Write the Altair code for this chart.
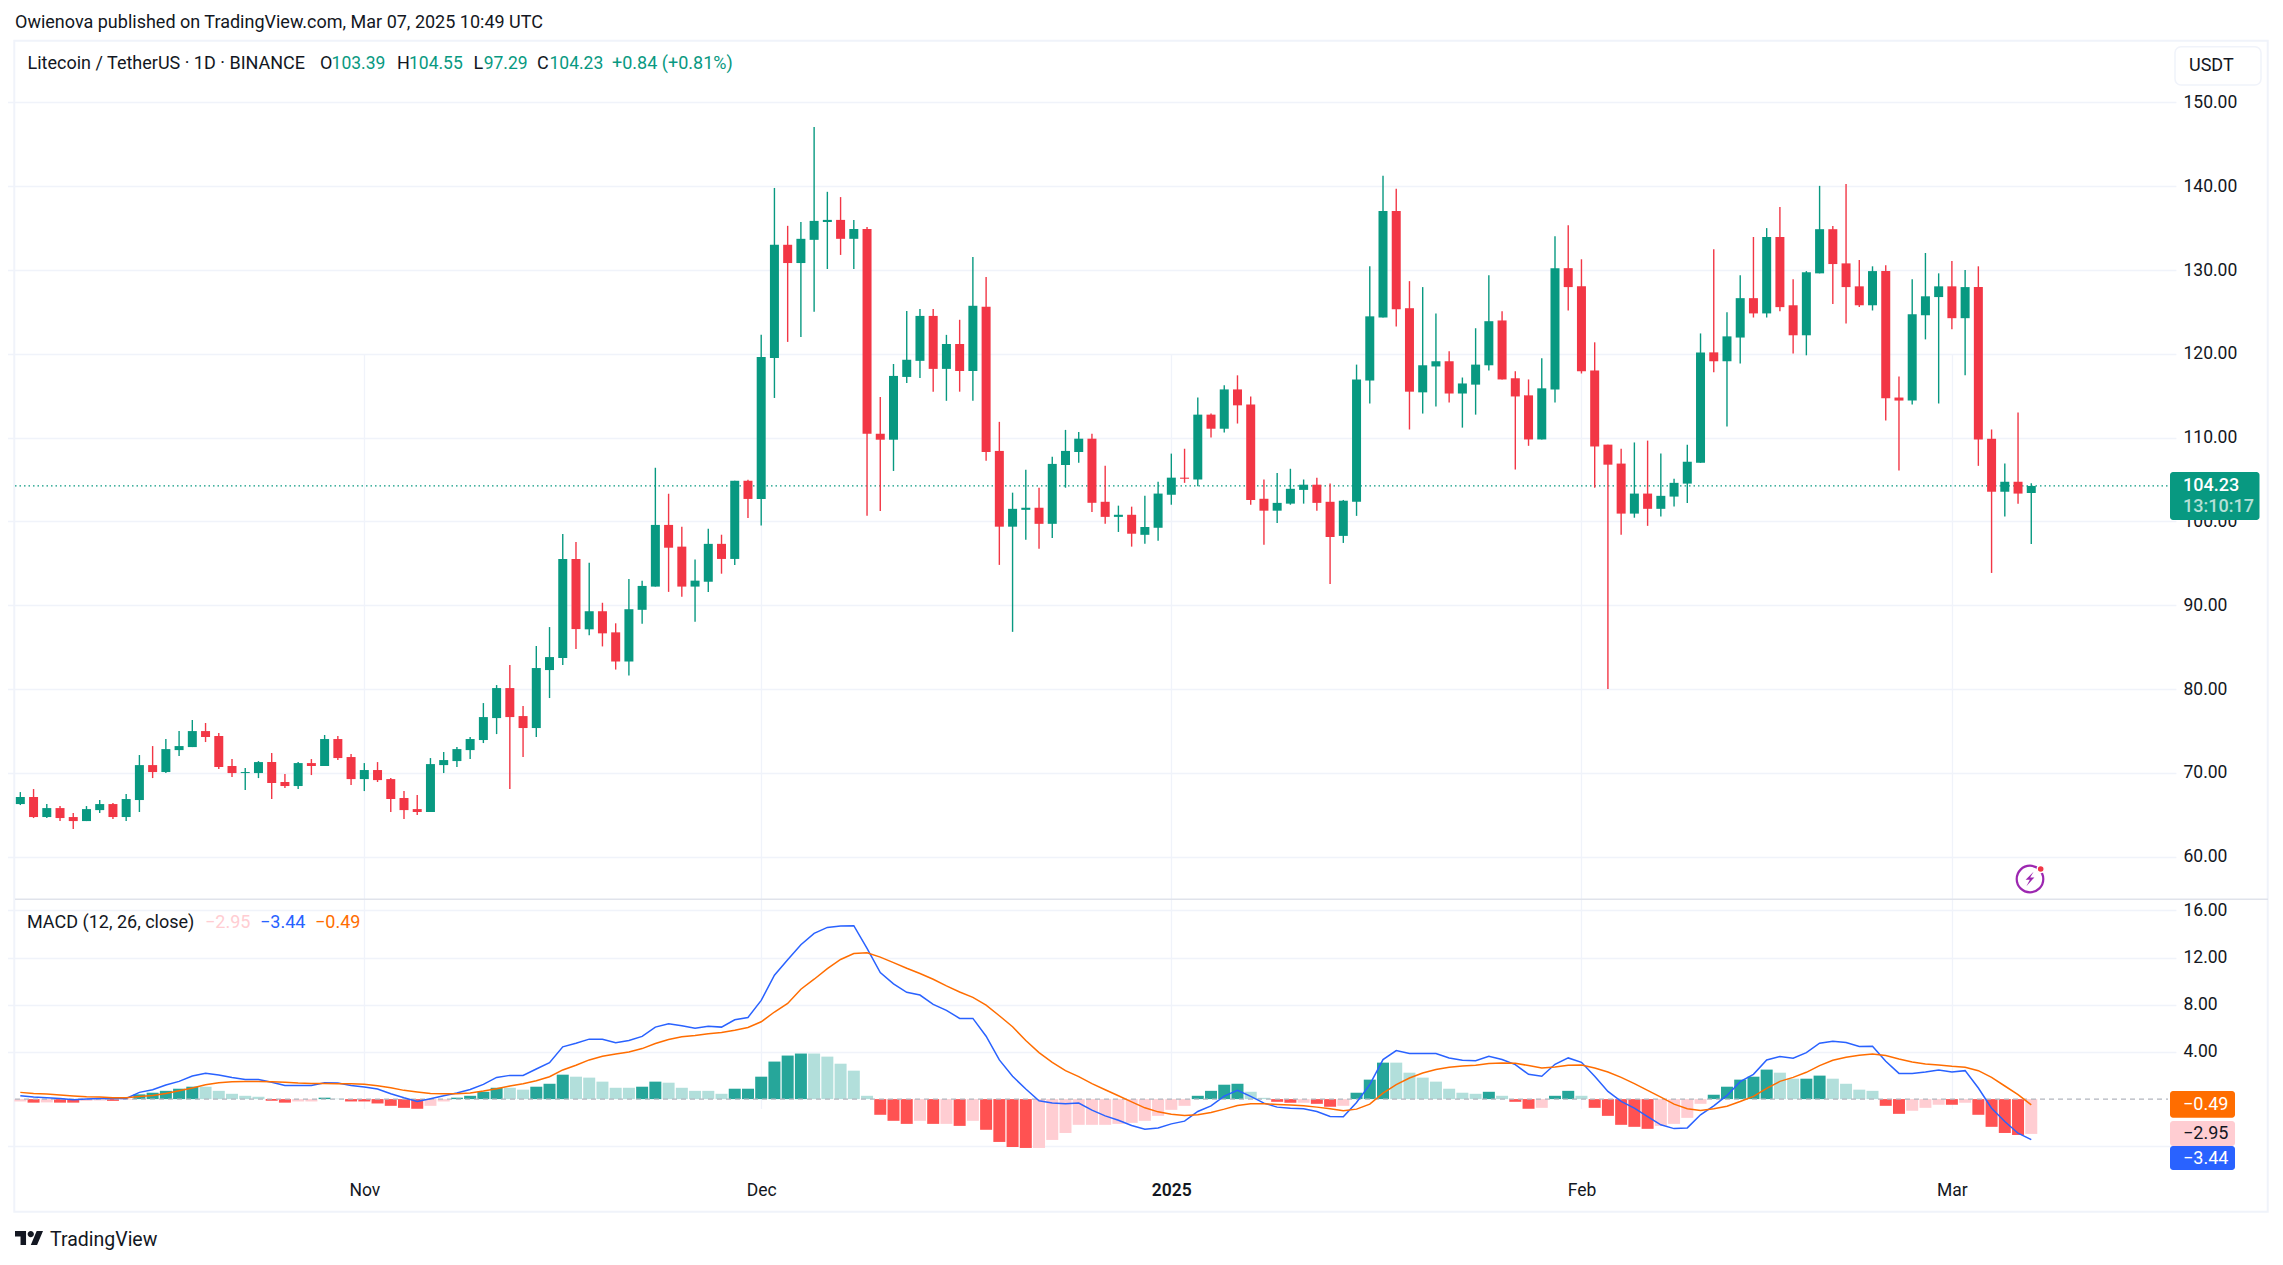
import altair as alt
import pandas as pd

opens = [66.27,67.11,64.72,65.79,64.72,64.24,65.55,66.27,64.72,66.75,
70.92,70.09,72.71,73.07,74.98,74.39,70.81,69.97,69.97,71.28,
68.90,68.42,71.16,70.81,74.03,71.88,69.25,70.33,69.25,66.99,
65.67,65.32,70.92,71.40,72.71,73.91,76.53,80.11,76.77,75.34,
82.26,83.69,95.51,87.12,89.28,86.76,83.28,89.45,92.22,99.58,
96.99,92.22,92.80,97.32,95.52,104.85,102.68,119.50,133.01,130.83,
133.60,135.73,135.98,133.72,134.89,110.46,109.75,117.24,119.16,124.52,
118.20,121.17,117.95,125.60,108.41,99.37,101.38,101.63,99.71,106.73,
108.28,109.87,102.34,100.54,100.79,98.40,99.24,103.18,105.22,105.00,
112.74,111.06,115.75,113.94,102.70,101.28,102.12,103.76,104.38,102.34,
98.27,102.34,116.81,124.33,137.03,125.44,115.40,118.49,119.11,115.26,
116.32,118.63,123.98,117.08,115.04,109.78,115.75,130.22,128.05,118.01,
109.16,106.90,100.93,103.32,101.50,102.96,104.51,106.99,120.17,119.11,
121.94,126.64,124.82,133.94,125.79,122.21,129.60,134.87,130.79,128.05,
125.79,129.87,114.78,114.42,124.60,126.77,128.05,124.25,127.96,109.86,
103.54,104.73,103.39]
highs = [67.70,68.06,66.27,66.03,65.20,66.03,66.75,66.39,67.46,72.12,
73.19,74.03,74.98,76.30,75.94,74.74,71.64,70.57,71.40,72.36,
69.85,71.28,71.64,74.51,74.39,72.24,71.16,71.28,69.37,67.82,
67.34,71.76,72.48,73.07,74.27,78.32,80.47,82.86,77.97,85.13,
87.39,98.49,97.54,95.06,90.29,87.84,93.14,92.93,106.40,103.30,
99.37,95.44,99.12,98.41,104.85,104.98,122.26,139.79,135.27,135.73,
147.07,139.33,138.70,135.98,135.14,114.85,118.78,125.10,125.35,125.35,
122.26,124.06,131.55,129.16,111.88,103.43,106.15,104.02,107.70,110.92,
110.67,110.46,106.65,101.88,101.76,103.05,104.73,108.09,108.67,114.78,
112.87,116.24,117.43,114.91,105.00,105.79,106.28,105.00,105.22,104.51,
102.56,118.71,130.44,141.24,139.69,128.67,127.96,124.82,120.31,117.17,
123.05,129.38,125.09,117.92,116.94,119.47,134.02,135.35,131.28,121.37,
109.16,108.67,109.42,109.64,108.09,105.09,109.16,122.43,132.48,124.95,
129.38,133.94,135.00,137.52,128.89,129.87,140.04,135.26,140.26,131.19,
130.44,130.57,117.30,128.89,132.03,129.60,131.06,130.00,130.44,110.97,
106.90,113.01,104.55]
lows = [66.15,64.60,64.60,64.24,63.29,64.24,65.20,64.48,64.24,65.32,
69.37,69.97,72.00,73.07,73.67,70.45,69.49,67.94,69.37,66.87,
68.18,68.06,69.73,70.81,71.52,68.54,67.82,68.90,65.32,64.48,
64.96,65.32,69.97,70.69,71.64,73.55,74.62,68.06,71.88,74.27,
78.92,82.86,84.77,86.40,85.08,82.32,81.60,87.78,92.22,91.59,
91.00,88.03,91.59,93.76,94.81,100.42,99.50,114.73,121.42,122.01,
125.02,130.12,131.80,130.12,100.67,101.25,106.02,116.53,117.11,115.48,
114.39,115.48,114.39,107.24,94.81,86.82,97.82,96.73,98.03,104.02,
106.99,101.13,99.71,98.74,96.99,97.34,97.70,101.99,104.60,104.20,
110.00,110.62,111.68,101.99,97.21,99.82,101.99,102.12,101.28,92.52,
97.43,100.66,114.07,124.33,123.27,110.97,112.87,113.71,114.20,111.19,
112.74,118.01,116.94,106.19,109.02,109.78,114.20,125.17,117.65,104.02,
80.00,98.40,100.44,99.47,100.57,101.77,102.21,106.99,117.79,111.32,
118.85,124.33,124.33,125.09,120.04,119.82,129.60,125.93,123.63,125.57,
125.17,112.03,106.06,113.94,121.72,114.07,122.92,117.43,106.63,93.85,
100.57,102.12,97.29]
closes = [67.11,64.72,65.79,64.60,64.24,65.67,66.27,64.72,66.87,70.92,
70.09,72.83,73.19,74.98,74.27,70.69,69.97,70.09,71.28,68.78,
68.42,71.16,70.81,74.03,71.76,69.25,70.33,69.13,66.87,65.55,
65.32,71.04,71.52,72.83,74.03,76.65,80.11,76.65,75.34,82.50,
83.81,95.51,87.15,89.28,86.64,83.28,89.52,92.30,99.58,96.86,
92.22,92.93,97.32,95.52,104.85,102.68,119.62,133.01,130.83,133.72,
135.86,135.98,133.72,134.89,110.46,109.75,117.36,119.29,124.52,118.20,
121.17,117.95,125.73,108.28,99.37,101.50,101.63,99.71,106.86,108.41,
109.87,102.22,100.54,100.79,98.53,99.33,103.32,105.22,105.09,112.74,
111.06,115.75,113.85,102.56,101.28,102.21,103.89,104.38,102.21,98.14,
102.47,116.94,124.47,137.03,125.31,115.48,118.63,119.11,115.26,116.46,
118.71,123.89,116.94,114.91,109.78,115.88,130.22,127.96,117.92,108.94,
106.77,100.93,103.32,101.50,103.05,104.60,107.12,120.17,119.11,122.08,
126.64,124.82,133.94,125.57,122.21,129.73,134.87,130.71,127.96,125.79,
129.87,114.69,114.42,124.73,126.86,128.05,124.25,127.96,109.78,103.54,
104.73,103.32,104.23]
hist = [-.2,-.3,-.28,-.3,-.3,-.15,-.12,-.15,-.05,.4,.54,.7,.88,1.05,1.05,.7,.45,.28,.2,-.15,
-.3,-.2,-.2,.12,.03,-.2,-.2,-.37,-.57,-.74,-.82,-.57,-.2,.12,.28,.62,.96,.96,.8,1.05,
1.3,2.07,1.9,1.82,1.48,.96,.96,1.05,1.48,1.39,.96,.7,.7,.45,.88,.88,1.9,3.18,3.69,3.86,
3.86,3.6,3.0,2.41,.28,-1.33,-1.84,-2.1,-1.84,-2.1,-2.1,-2.27,-1.84,-2.6,-3.63,-4.06,-4.14,-4.14,-3.46,-2.87,
-2.18,-2.18,-2.18,-2.1,-2.01,-1.84,-1.42,-.91,-.57,.28,.7,1.22,1.3,.62,.11,-.23,-.31,-.31,-.4,-.65,
-.57,.54,1.65,3.09,3.09,2.24,1.82,1.48,.88,.54,.45,.62,.28,-.23,-.82,-.74,.28,.7,.28,-.74,
-1.42,-2.18,-2.35,-2.52,-2.27,-2.1,-1.59,-.4,.37,1.05,1.65,1.9,2.5,2.24,1.73,1.73,1.99,1.73,1.3,.8,
.7,-.57,-1.25,-.99,-.74,-.48,-.48,-.31,-1.33,-2.35,-2.87,-3.04,-2.95]
hist_kind = list(
    "prprrpprp" "ggggg" "lllll" "rr" "pp" "g" "l" "rrrrrr" "pp" "gggg" "ll" "ggg" "lllll" "gg" "lllll" "gggggg"
    "lllll" "rrr" "p" "r" "p" "r" "p" "rrrr" "pppppppppppp" "gggg" "ll" "rr" "p" "rr" "p" "ggg" "lllllll" "g" "l"
    "rr" "p" "gg" "l" "r"
    "rrrr" "pppp" "ggggg" "ll" "gg" "llll" "rr" "ppp" "r" "p" "rrrr" "p")
macd = [.28,.17,.11,.06,-.06,0,.06,.06,.06,.57,.79,1.19,1.5,1.96,2.18,2.04,1.84,1.67,1.67,1.42,
1.16,1.16,1.16,1.39,1.36,1.16,1.02,.85,.45,.11,-.2,.03,.28,.51,.82,1.25,1.84,2.01,2.01,2.55,
3.09,4.43,4.74,5.08,5.08,4.77,4.96,5.31,6.1,6.38,6.21,6.01,6.18,6.1,6.72,6.92,8.37,10.5,11.8,13.08,
14.04,14.55,14.67,14.7,12.77,10.72,9.76,9.05,8.82,8.03,7.52,6.84,6.84,5.33,3.32,1.93,.85,-.14,-.34,-.4,
-.34,-.94,-1.42,-1.79,-2.24,-2.55,-2.44,-2.1,-1.87,-1.05,-.57,.26,.74,.23,-.34,-.68,-.77,-.82,-1.05,-1.48,
-1.5,-.28,1.22,3.35,4.11,3.86,3.86,3.86,3.49,3.29,3.26,3.63,3.35,2.92,2.1,1.93,2.95,3.49,3.12,1.93,
.65,-.2,-.77,-1.48,-2.18,-2.5,-2.44,-1.33,-.57,.31,1.48,2.1,3.32,3.6,3.46,3.94,4.74,4.91,4.79,4.45,
4.48,3.21,2.18,2.18,2.3,2.47,2.3,2.41,.94,-.77,-1.9,-2.89,-3.44]
signal = [.57,.48,.43,.34,.26,.2,.17,.11,.11,.23,.31,.48,.71,.94,1.22,1.39,1.48,1.5,1.5,1.48,
1.42,1.36,1.33,1.33,1.31,1.31,1.25,1.13,.96,.74,.6,.48,.45,.45,.51,.68,.88,1.11,1.31,1.56,
1.9,2.47,2.87,3.32,3.63,3.83,4.0,4.28,4.71,5.05,5.28,5.39,5.53,5.65,5.84,6.07,6.55,7.38,8.11,9.31,
10.16,11.06,11.83,12.34,12.4,12.03,11.57,11.09,10.64,10.16,9.59,9.08,8.62,7.97,7.06,6.13,4.96,3.94,3.12,2.41,
1.9,1.31,.79,.28,-.23,-.74,-1.08,-1.28,-1.39,-1.33,-1.13,-.85,-.54,-.4,-.4,-.45,-.51,-.57,-.68,-.82,
-.99,-.85,-.43,.51,1.22,1.79,2.21,2.5,2.7,2.81,2.87,3.01,3.06,3.04,2.84,2.64,2.72,2.87,2.89,2.64,
2.3,1.84,1.31,.74,.17,-.43,-.82,-.96,-.82,-.6,-.2,.23,.91,1.5,1.84,2.27,2.84,3.29,3.55,3.72,
3.83,3.69,3.4,3.15,2.98,2.89,2.78,2.7,2.41,1.84,1.11,.37,-.49]

price_ticks = [60, 70, 80, 90, 100, 110, 120, 130, 140, 150]
macd_ticks = [16, 12, 8, 4, -4]
month_ticks = ["2024-11-01", "2024-12-01", "2025-01-01", "2025-02-01", "2025-03-01"]
last_price = 104.23

dates = pd.date_range("2024-10-06", "2025-03-07").strftime("%Y-%m-%d").tolist()
df = pd.DataFrame({"date": dates, "open": opens, "high": highs, "low": lows, "close": closes,
                   "hist": hist, "kind": hist_kind, "macd": macd, "signal": signal})
df["zero"] = 0
one = pd.DataFrame({"_": [0]})

FONT = "Roboto"
GRID = "#f0f3fa"
INK = "#131722"
UP = "#089981"
DOWN = "#F23645"
VIEW_L, VIEW_T, VIEW_W, VIEW_H = 15, 41, 2153, 1129

xaxis = alt.Axis(title=None, values=month_ticks, grid=True, gridColor=GRID, gridWidth=1.3,
                 domain=False, ticks=False, labelPadding=11, labelFont=FONT, labelFontSize=17.5,
                 labelColor=INK, labelFlush=False, labelOverlap=False,
                 labelExpr="utcmonth(datum.value)==0 ? '2025' : utcFormat(datum.value,'%b')",
                 labelFontWeight={"condition": {"test": "utcmonth(datum.value)==0", "value": 600}, "value": 400})
X = alt.X("date:T", axis=xaxis,
          scale=alt.Scale(type="utc", domain=["2024-10-05", "2025-03-18"], range=[-7.9, 2161.8], padding=0))

pscale = alt.Scale(domain=[60, 150], range=[815.6, 61.4], nice=False, zero=False)
mscale = alt.Scale(domain=[-4, 16], range=[1105.3, 869.3], nice=False, zero=False)


def yaxis(vals):
    return alt.Axis(title=None, orient="right", values=vals, grid=True, gridColor=GRID,
                    gridWidth=1.3, domain=False, ticks=False, labelPadding=15, labelFont=FONT,
                    labelFontSize=17.5, labelColor=INK, labelOverlap=False,
                    labelExpr="datum.value < 0 ? '' : format(datum.value, '.2f')")


updown = alt.condition("datum.close >= datum.open", alt.value(UP), alt.value(DOWN))
base = alt.Chart(df)
layers = []


def rect(x0, x1, y0, y1, **kw):
    return alt.Chart(one).mark_rect(**kw).encode(
        x=alt.value(x0 - VIEW_L), x2=alt.value(x1 - VIEW_L),
        y=alt.value(y0 - VIEW_T), y2=alt.value(y1 - VIEW_T))


def txt(s, x, y, color=INK, size=18, weight=400, align="left", font=FONT):
    return alt.Chart(one).mark_text(text=s, color=color, fontSize=size, fontWeight=weight, align=align,
                                    baseline="middle", font=font).encode(
        x=alt.value(x - VIEW_L), y=alt.value(y - VIEW_T))


# frame and pane separator (no fill, so the axes and grid below stay visible)
layers.append(rect(14.3, 2267.7, 40.7, 1211.7, fill="transparent", stroke=GRID, strokeWidth=2))
layers.append(rect(15, 2268, 898.6, 900, fill="#e0e3eb"))

# candles
layers.append(base.mark_rule(opacity=0).encode(x=X, y=alt.Y("high:Q", scale=pscale, axis=yaxis(price_ticks))))
layers.append(alt.Chart(one).mark_rule(color=UP, strokeWidth=1.2, strokeDash=[1.5, 3]).encode(
    x=alt.value(0), x2=alt.value(VIEW_W), y=alt.Y(datum=last_price, scale=pscale, axis=None)))
layers.append(base.mark_rule(strokeWidth=1.4).encode(
    x=X, y=alt.Y("high:Q", scale=pscale, axis=None), y2="low:Q", color=updown))
layers.append(base.mark_bar(size=9).encode(
    x=X, y=alt.Y("open:Q", scale=pscale, axis=None), y2="close:Q", color=updown))

# MACD
layers.append(base.mark_bar(size=12).encode(
    x=X, y=alt.Y("hist:Q", scale=mscale, axis=yaxis(macd_ticks)), y2="zero:Q",
    color=alt.Color("kind:N", legend=None,
                    scale=alt.Scale(domain=["g", "l", "p", "r"],
                                    range=["#26a69a", "#b2dfdb", "#ffcdd2", "#ff5252"]))))
layers.append(alt.Chart(one).mark_rule(color="#b2b5be", strokeWidth=1.3, strokeDash=[5, 4]).encode(
    x=alt.value(0), x2=alt.value(VIEW_W), y=alt.Y(datum=0, scale=mscale, axis=None)))
layers.append(base.mark_line(color="#2962FF", strokeWidth=1.5).encode(
    x=X, y=alt.Y("macd:Q", scale=mscale, axis=None)))
layers.append(base.mark_line(color="#FF6D00", strokeWidth=1.5).encode(
    x=X, y=alt.Y("signal:Q", scale=mscale, axis=None)))

# price tags
layers.append(rect(2170, 2259.5, 472, 520, fill=UP, cornerRadius=3))
layers.append(txt("104.23", 2183, 486, "white", 18, 500))
layers.append(txt("13:10:17", 2183, 507, "#b5e0d7", 18, 500))
layers.append(rect(2170, 2235, 1091, 1117.7, fill="#FF6D00", cornerRadius=3))
layers.append(txt("−0.49", 2183, 1105, "white"))
layers.append(rect(2170, 2235, 1121, 1146, fill="#FFCDD2", cornerRadius=3))
layers.append(txt("−2.95", 2183, 1134, "#131722"))
layers.append(rect(2170, 2235, 1146, 1170, fill="#2962FF", cornerRadius=3))
layers.append(txt("−3.44", 2183, 1159, "white"))

# USDT button
layers.append(rect(2175, 2261, 46.7, 85, fill="white", stroke=GRID, strokeWidth=1.5, cornerRadius=6))
layers.append(txt("USDT", 2189, 65.7))

# header and legend
layers.append(txt("Owienova published on TradingView.com, Mar 07, 2025 10:49 UTC", 15, 23))
layers.append(txt("Litecoin / TetherUS · 1D · BINANCE", 27.5, 64))
for label, lx, value, vx in [("O", 320, "103.39", 331.6), ("H", 397, "104.55", 409),
                             ("L", 473.5, "97.29", 483.7), ("C", 537, "104.23", 549.5)]:
    layers.append(txt(label, lx, 64))
    layers.append(txt(value, vx, 64, UP, 17.5))
layers.append(txt("+0.84 (+0.81%)", 612, 64, UP))
layers.append(txt("MACD (12, 26, close)", 27, 923))
layers.append(txt("−2.95", 205, 923, "#FFCDD2"))
layers.append(txt("−3.44", 260, 923, "#2962FF"))
layers.append(txt("−0.49", 315, 923, "#FF6D00"))


def sym(shape, x, y, size, **kw):
    return alt.Chart(one).mark_point(shape=shape, size=size, **kw).encode(
        x=alt.value(x - VIEW_L), y=alt.value(y - VIEW_T))


LOGO = ("M-.211,.507H-.605V-.113H-1V-.507H-.211Z M.577,.507H.127L.549,-.507H1Z "
        "M-.098,-.282A.225,.225 0 1 0 .352,-.282A.225,.225 0 1 0 -.098,-.282Z")
BOLT = "M.45,-.9L-.55,.1H-.02L-.45,.9L.55,-.2H.02Z"
layers.append(sym(LOGO, 29, 1238, 784, filled=True, fill="#131722", strokeWidth=0, opacity=1))
layers.append(txt("TradingView", 50, 1240, INK, 19.5))
layers.append(sym("circle", 2030, 879, 707, filled=False, stroke="#9C27B0", strokeWidth=2.2, opacity=1))
layers.append(sym(BOLT, 2030, 879, 256, filled=True, fill="#9C27B0", strokeWidth=0, opacity=1))
layers.append(sym("circle", 2040.7, 869, 50, filled=True, fill="#F23645", stroke="white", strokeWidth=1.5, opacity=1))

chart = alt.layer(*layers).resolve_scale(y="independent", color="independent").resolve_axis(y="independent").properties(
    width=VIEW_W, height=VIEW_H,
    autosize=alt.AutoSizeParams(type="none"),
    padding={"left": VIEW_L - 8, "top": VIEW_T - 8, "right": 105, "bottom": 84},
    background="white",
).configure_view(stroke=None)

chart.save("out.html", embed_options={"renderer": "svg", "actions": False})
